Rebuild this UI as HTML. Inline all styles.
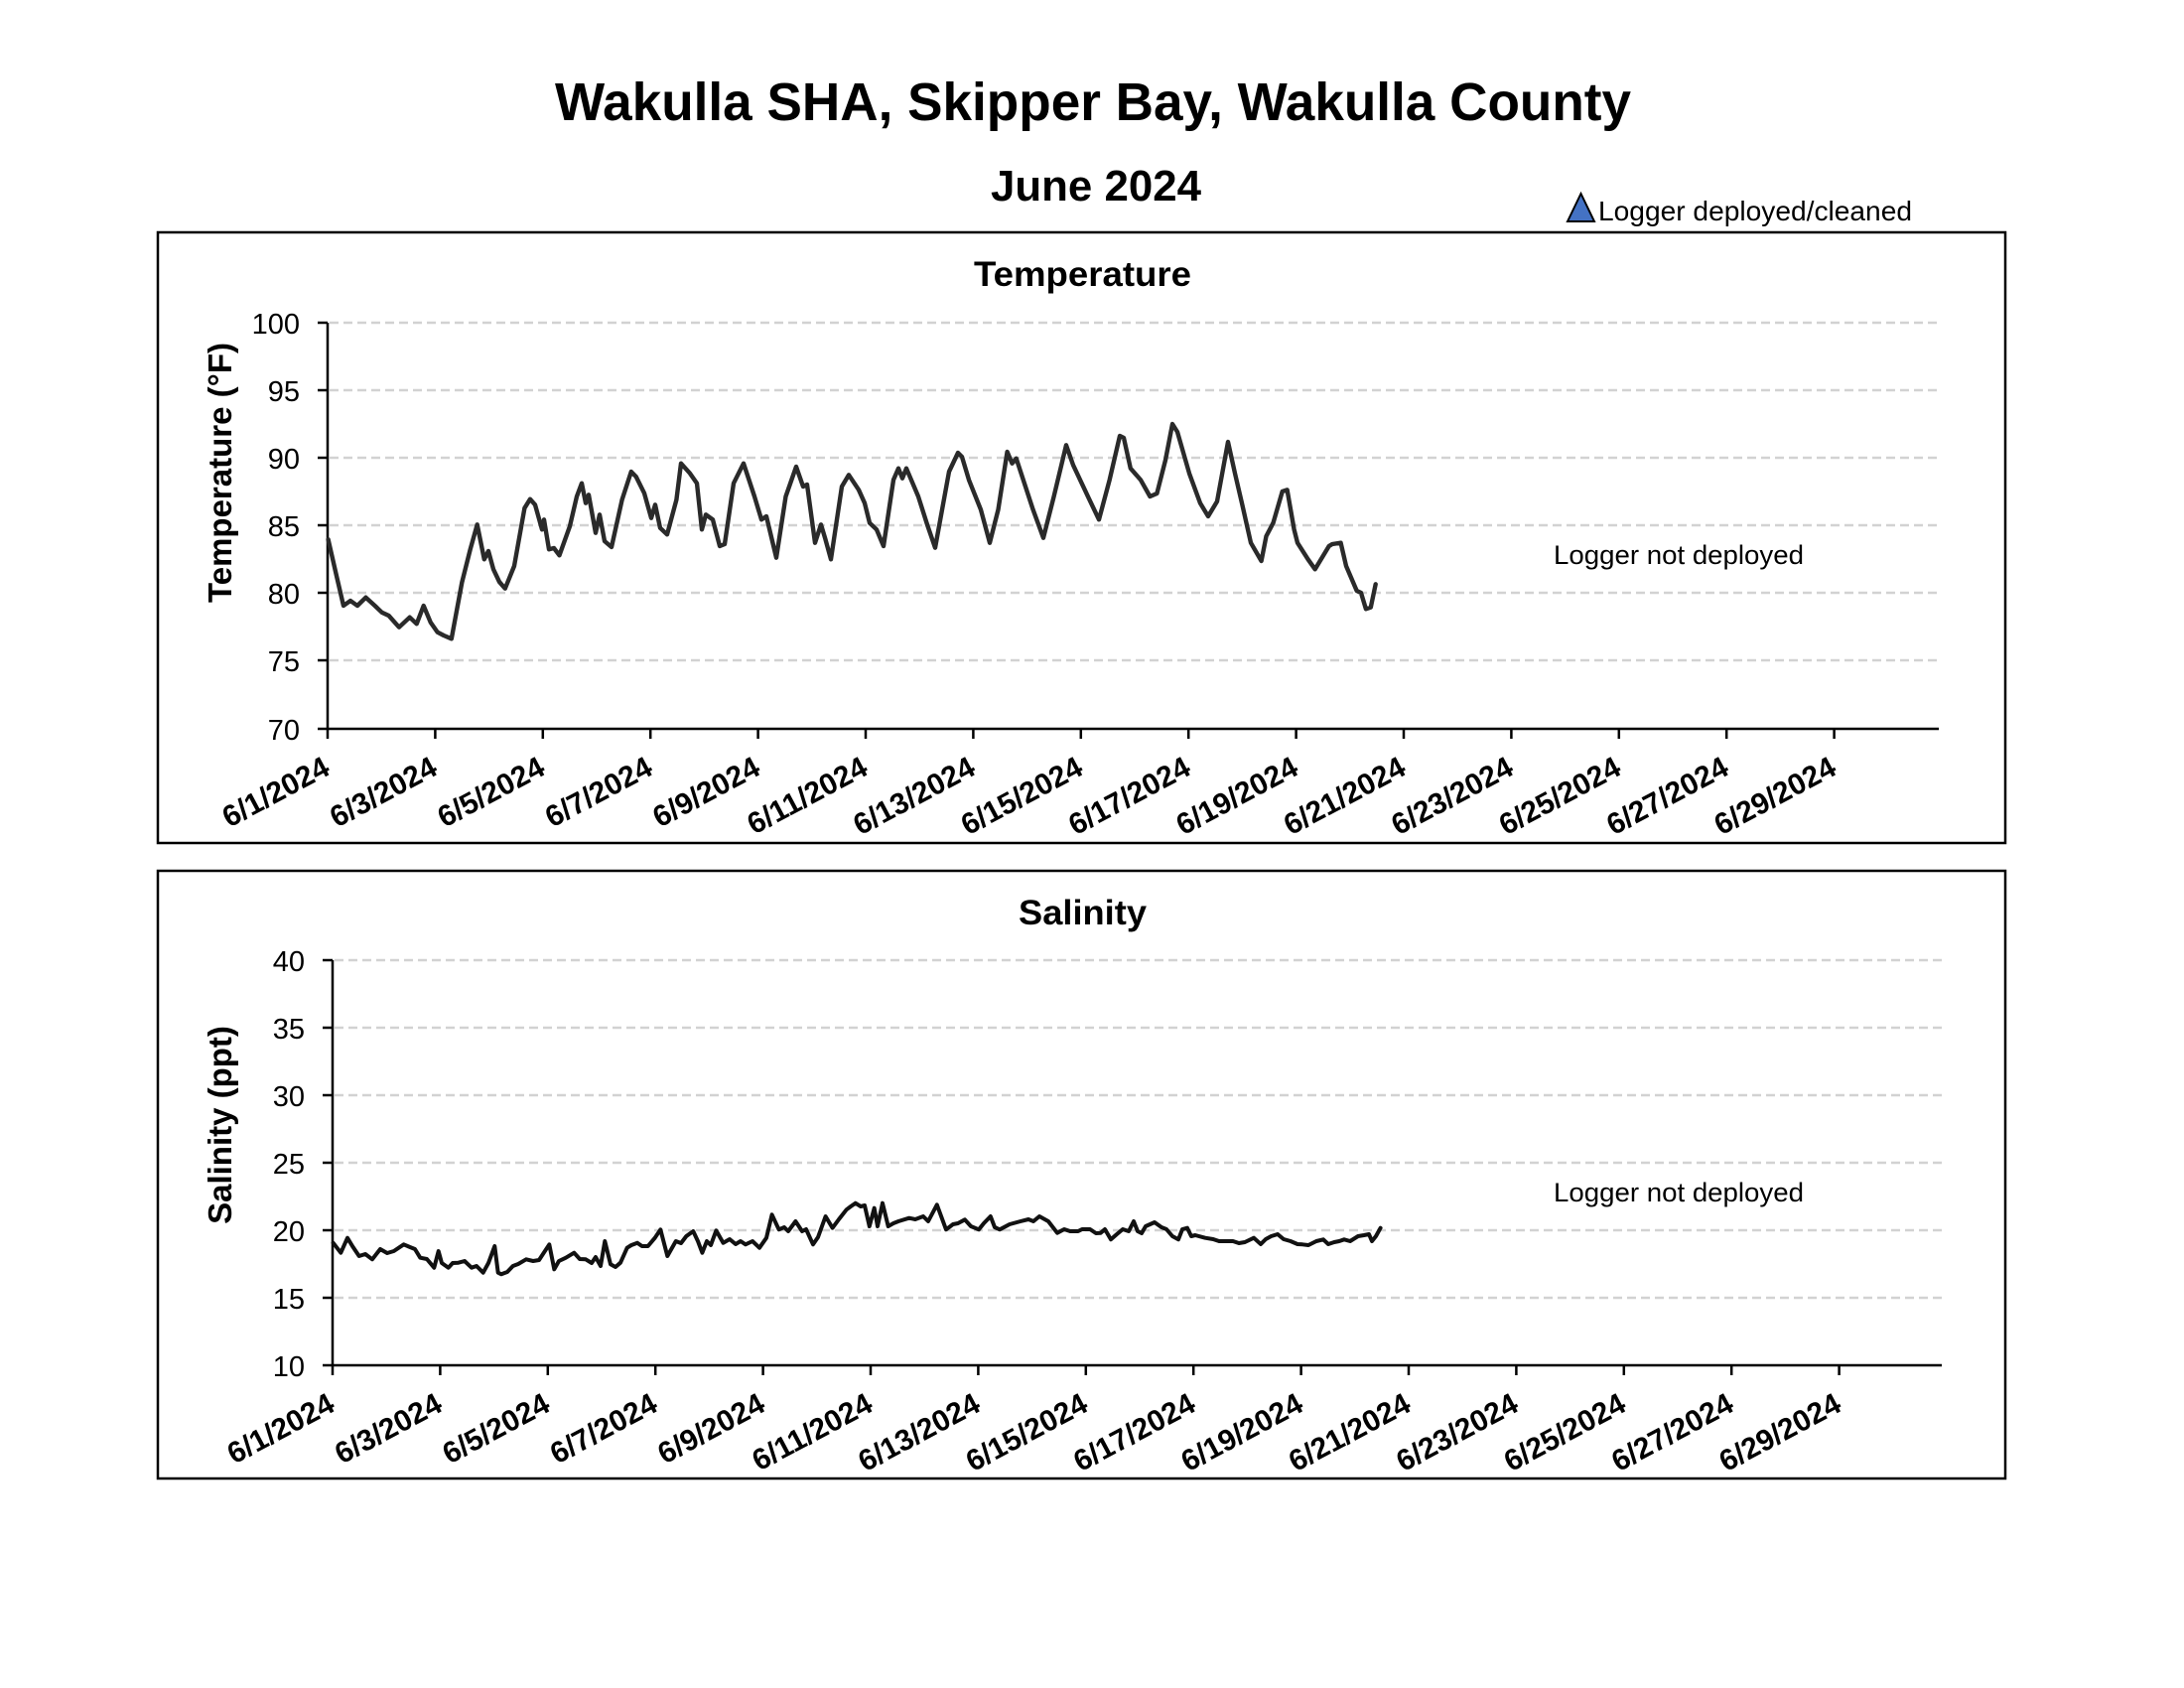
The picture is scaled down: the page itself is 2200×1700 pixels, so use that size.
<!DOCTYPE html>
<html><head><meta charset="utf-8"><style>
html,body{margin:0;padding:0;background:#fff;}
svg{display:block;}
text{font-family:"Liberation Sans",Arial,sans-serif;fill:#000;}
.tl{font-size:29px;text-anchor:end;}
.xl{font-size:30px;text-anchor:end;font-weight:bold;}
.grid{stroke:#d2d2d2;stroke-width:2.5;stroke-dasharray:9 5;}
.ax{stroke:#000;stroke-width:2.5;fill:none;}
</style></head><body>
<svg width="2200" height="1700" viewBox="0 0 2200 1700" xmlns="http://www.w3.org/2000/svg">
<rect x="0" y="0" width="2200" height="1700" fill="#fff"/>
<text x="559" y="121" font-size="54" font-weight="bold" textLength="1084" lengthAdjust="spacingAndGlyphs">Wakulla SHA, Skipper Bay, Wakulla County</text>
<text x="998" y="202" font-size="44" font-weight="bold" textLength="212" lengthAdjust="spacingAndGlyphs">June 2024</text>
<polygon points="1579,223 1592.5,195 1606,223" fill="#4472c4" stroke="#000" stroke-width="2"/>
<text x="1610" y="222" font-size="28" textLength="316" lengthAdjust="spacingAndGlyphs">Logger deployed/cleaned</text>

<!-- TOP CHART -->
<rect x="159" y="234" width="1861" height="615" fill="none" stroke="#000" stroke-width="2.5"/>
<text x="981" y="288" font-size="35" font-weight="bold" textLength="219" lengthAdjust="spacingAndGlyphs">Temperature</text>
<g class="grid">
<line x1="332" y1="325" x2="1953" y2="325"/>
<line x1="332" y1="393" x2="1953" y2="393"/>
<line x1="332" y1="461" x2="1953" y2="461"/>
<line x1="332" y1="529" x2="1953" y2="529"/>
<line x1="332" y1="597" x2="1953" y2="597"/>
<line x1="332" y1="665" x2="1953" y2="665"/>
</g>
<g class="ax">
<line x1="330" y1="325" x2="330" y2="735"/>
<line x1="329" y1="734" x2="1953" y2="734"/>
<line x1="320" y1="325" x2="330" y2="325"/>
<line x1="320" y1="393" x2="330" y2="393"/>
<line x1="320" y1="461" x2="330" y2="461"/>
<line x1="320" y1="529" x2="330" y2="529"/>
<line x1="320" y1="597" x2="330" y2="597"/>
<line x1="320" y1="665" x2="330" y2="665"/>
<line x1="320" y1="734" x2="330" y2="734"/>
<line x1="330" y1="734" x2="330" y2="744"/>
<line x1="438.4" y1="734" x2="438.4" y2="744"/>
<line x1="546.8" y1="734" x2="546.8" y2="744"/>
<line x1="655.2" y1="734" x2="655.2" y2="744"/>
<line x1="763.6" y1="734" x2="763.6" y2="744"/>
<line x1="872" y1="734" x2="872" y2="744"/>
<line x1="980.4" y1="734" x2="980.4" y2="744"/>
<line x1="1088.8" y1="734" x2="1088.8" y2="744"/>
<line x1="1197.2" y1="734" x2="1197.2" y2="744"/>
<line x1="1305.6" y1="734" x2="1305.6" y2="744"/>
<line x1="1414" y1="734" x2="1414" y2="744"/>
<line x1="1522.4" y1="734" x2="1522.4" y2="744"/>
<line x1="1630.8" y1="734" x2="1630.8" y2="744"/>
<line x1="1739.2" y1="734" x2="1739.2" y2="744"/>
<line x1="1847.6" y1="734" x2="1847.6" y2="744"/>
</g>
<text class="tl" x="302" y="336">100</text>
<text class="tl" x="302" y="404">95</text>
<text class="tl" x="302" y="472">90</text>
<text class="tl" x="302" y="540">85</text>
<text class="tl" x="302" y="608">80</text>
<text class="tl" x="302" y="676">75</text>
<text class="tl" x="302" y="745">70</text>
<text class="xl" transform="translate(334,779) rotate(-28)">6/1/2024</text>
<text class="xl" transform="translate(442.4,779) rotate(-28)">6/3/2024</text>
<text class="xl" transform="translate(550.8,779) rotate(-28)">6/5/2024</text>
<text class="xl" transform="translate(659.2,779) rotate(-28)">6/7/2024</text>
<text class="xl" transform="translate(767.6,779) rotate(-28)">6/9/2024</text>
<text class="xl" transform="translate(876,779) rotate(-28)">6/11/2024</text>
<text class="xl" transform="translate(984.4,779) rotate(-28)">6/13/2024</text>
<text class="xl" transform="translate(1092.8,779) rotate(-28)">6/15/2024</text>
<text class="xl" transform="translate(1201.2,779) rotate(-28)">6/17/2024</text>
<text class="xl" transform="translate(1309.6,779) rotate(-28)">6/19/2024</text>
<text class="xl" transform="translate(1418,779) rotate(-28)">6/21/2024</text>
<text class="xl" transform="translate(1526.4,779) rotate(-28)">6/23/2024</text>
<text class="xl" transform="translate(1634.8,779) rotate(-28)">6/25/2024</text>
<text class="xl" transform="translate(1743.2,779) rotate(-28)">6/27/2024</text>
<text class="xl" transform="translate(1851.6,779) rotate(-28)">6/29/2024</text>
<text transform="translate(233,476) rotate(-90)" font-size="33" font-weight="bold" text-anchor="middle">Temperature (°F)</text>
<text x="1565" y="568" font-size="27" textLength="252" lengthAdjust="spacingAndGlyphs">Logger not deployed</text>
<polyline fill="none" stroke="#2a2a2a" stroke-width="4.4" stroke-linejoin="round" stroke-linecap="round" points="330.6,543.3 339,580 346,610 353,605 360,610 368.5,601.7 377.6,610 384.6,616.7 391.6,620 402,631.7 412.7,621.7 419.7,628.3 426.7,610 433.7,626.7 440.7,636.7 447,640 454.8,643.3 465.3,586.7 473.7,553.3 480.7,528.3 487.8,563.3 492,555 497,573.3 503,586 508.8,592.7 518,570 528.4,511.7 534,502.7 539,508.3 546,533.3 548,523.3 553,553.3 558,552 563.5,559.3 574,530 581,500 586,486.7 590,506.7 593,498.3 600,536.7 604,518.3 609,545 616,551 626.6,503.3 635.8,475 640.7,480 649,496.7 656,521.7 660,508.3 665,531.7 672,538.3 681.4,503.3 686,466.7 695,476.7 702,486.7 707,533.3 711,518.3 718,523.3 725,550 730,548 739,486.7 749,466.7 760,500 767,523.3 772,520 782,561.7 791.5,500 802,470 809,490 813,488 821,546.7 827,528.3 831.5,543.3 837,563.3 848,490 855,478.3 865,493.3 871,506.7 876,526.7 883,533.3 890,550 900,483.3 905,471.7 909,481.7 913,471.7 925,500 934,528.3 942,551.7 956,475 965,456 969,460 976,483.3 988,513.3 997,546.7 1005.5,513.3 1014.6,455 1019.5,466.7 1023.7,461.7 1040.6,513.3 1051,541.7 1061.6,500 1074,448.3 1081,468.3 1096.7,501.7 1107,523.3 1117.7,483.3 1128,439 1132,441 1138.8,471.7 1149,483.3 1158.4,500 1165.4,497 1174,463.3 1181,427 1186,435 1198,476.7 1209,506.7 1217,520 1226,505 1237,445 1244,476.7 1251,506.7 1260,546.7 1270.6,565 1275.5,540 1282.5,526.7 1291.7,495 1296.6,493.3 1303.6,533.3 1307,546.7 1317.6,563.3 1324.7,573.3 1338.7,550 1342,548 1350.6,546.7 1356,570 1366.7,595 1371,597 1375.9,613.3 1380.8,611.7 1385.7,588.3"/>

<!-- BOTTOM CHART -->
<rect x="159" y="877" width="1861" height="612" fill="none" stroke="#000" stroke-width="2.5"/>
<text x="1026" y="931" font-size="35" font-weight="bold" textLength="129" lengthAdjust="spacingAndGlyphs">Salinity</text>
<g class="grid">
<line x1="337" y1="967" x2="1958" y2="967"/>
<line x1="337" y1="1035" x2="1958" y2="1035"/>
<line x1="337" y1="1103" x2="1958" y2="1103"/>
<line x1="337" y1="1171" x2="1958" y2="1171"/>
<line x1="337" y1="1239" x2="1958" y2="1239"/>
<line x1="337" y1="1307" x2="1958" y2="1307"/>
</g>
<g class="ax">
<line x1="335" y1="967" x2="335" y2="1376"/>
<line x1="334" y1="1375" x2="1956" y2="1375"/>
<line x1="325" y1="967" x2="335" y2="967"/>
<line x1="325" y1="1035" x2="335" y2="1035"/>
<line x1="325" y1="1103" x2="335" y2="1103"/>
<line x1="325" y1="1171" x2="335" y2="1171"/>
<line x1="325" y1="1239" x2="335" y2="1239"/>
<line x1="325" y1="1307" x2="335" y2="1307"/>
<line x1="325" y1="1375" x2="335" y2="1375"/>
<line x1="335" y1="1375" x2="335" y2="1385"/>
<line x1="443.4" y1="1375" x2="443.4" y2="1385"/>
<line x1="551.8" y1="1375" x2="551.8" y2="1385"/>
<line x1="660.2" y1="1375" x2="660.2" y2="1385"/>
<line x1="768.6" y1="1375" x2="768.6" y2="1385"/>
<line x1="877" y1="1375" x2="877" y2="1385"/>
<line x1="985.4" y1="1375" x2="985.4" y2="1385"/>
<line x1="1093.8" y1="1375" x2="1093.8" y2="1385"/>
<line x1="1202.2" y1="1375" x2="1202.2" y2="1385"/>
<line x1="1310.6" y1="1375" x2="1310.6" y2="1385"/>
<line x1="1419" y1="1375" x2="1419" y2="1385"/>
<line x1="1527.4" y1="1375" x2="1527.4" y2="1385"/>
<line x1="1635.8" y1="1375" x2="1635.8" y2="1385"/>
<line x1="1744.2" y1="1375" x2="1744.2" y2="1385"/>
<line x1="1852.6" y1="1375" x2="1852.6" y2="1385"/>
</g>
<text class="tl" x="307" y="978">40</text>
<text class="tl" x="307" y="1046">35</text>
<text class="tl" x="307" y="1114">30</text>
<text class="tl" x="307" y="1182">25</text>
<text class="tl" x="307" y="1250">20</text>
<text class="tl" x="307" y="1318">15</text>
<text class="tl" x="307" y="1386">10</text>
<text class="xl" transform="translate(339,1420) rotate(-28)">6/1/2024</text>
<text class="xl" transform="translate(447.4,1420) rotate(-28)">6/3/2024</text>
<text class="xl" transform="translate(555.8,1420) rotate(-28)">6/5/2024</text>
<text class="xl" transform="translate(664.2,1420) rotate(-28)">6/7/2024</text>
<text class="xl" transform="translate(772.6,1420) rotate(-28)">6/9/2024</text>
<text class="xl" transform="translate(881,1420) rotate(-28)">6/11/2024</text>
<text class="xl" transform="translate(989.4,1420) rotate(-28)">6/13/2024</text>
<text class="xl" transform="translate(1097.8,1420) rotate(-28)">6/15/2024</text>
<text class="xl" transform="translate(1206.2,1420) rotate(-28)">6/17/2024</text>
<text class="xl" transform="translate(1314.6,1420) rotate(-28)">6/19/2024</text>
<text class="xl" transform="translate(1423,1420) rotate(-28)">6/21/2024</text>
<text class="xl" transform="translate(1531.4,1420) rotate(-28)">6/23/2024</text>
<text class="xl" transform="translate(1639.8,1420) rotate(-28)">6/25/2024</text>
<text class="xl" transform="translate(1748.2,1420) rotate(-28)">6/27/2024</text>
<text class="xl" transform="translate(1856.6,1420) rotate(-28)">6/29/2024</text>
<text transform="translate(233,1133) rotate(-90)" font-size="33" font-weight="bold" text-anchor="middle">Salinity (ppt)</text>
<text x="1565" y="1210" font-size="27" textLength="252" lengthAdjust="spacingAndGlyphs">Logger not deployed</text>
<polyline fill="none" stroke="#111" stroke-width="4" stroke-linejoin="round" stroke-linecap="round" points="335.6,1251.7 343.3,1261.7 350,1246.7 355,1255 361.7,1265 368,1263 375,1268.3 383,1258 390,1262 396.7,1260 406.7,1253.3 413,1256 418,1258 423.3,1266.7 430,1268 437.3,1276.7 441.7,1260 445,1272 451.7,1276.7 456,1272 461.7,1271.7 468,1270 475,1276.7 480,1275 486.7,1281.7 492,1272 498.3,1255 501.7,1281.7 505,1283.3 511,1281 516.7,1275 522,1273 530,1268.3 537,1270 543,1269 550,1258.3 553.3,1253.3 558.3,1278.3 563,1270 570,1266.7 578.3,1261.7 584,1268 590,1268.3 596,1272 600,1266 605,1275 609.3,1250 615,1273.3 620,1276 625,1271.7 631.7,1256.7 636,1254 642,1251.7 646.7,1255 652.7,1255 659.7,1246.7 665.3,1238.3 672.3,1265 680.8,1250 686,1252 691.3,1245 698.3,1240 703,1250 707.4,1261.7 712,1250 716,1254 721.4,1239.3 728.5,1251.7 735,1248 741,1253 746,1250 751,1253.3 758,1250 765,1256.7 772,1246.7 777.6,1223.3 784.6,1238.3 790,1236 794,1240 801.4,1230 808,1240 812,1238 819,1253.3 824,1246 831.6,1225 838.6,1236.7 845,1228 852.6,1218.3 857,1215 861.7,1211.7 867,1215 871,1214 875.8,1235 880.7,1216.7 884,1235 889,1211.7 894.7,1235 900,1232 905,1230 915.8,1226.7 922,1228 930,1225 935,1230 943.8,1213.3 953,1238.3 960,1233 965,1232 971.9,1228.3 978,1235 986,1238.3 991,1232 997.8,1225 1002,1236 1007,1238.3 1017,1233 1028,1230 1036,1228 1041,1230 1047,1225 1056,1230 1065,1241.7 1072,1238 1078,1240 1086,1240 1090,1238 1098,1238 1104,1242 1108.7,1241.7 1113,1238 1119,1248.3 1125,1243 1131,1238 1137,1240 1142,1230 1146,1240 1150,1242 1154,1235 1163,1231 1170,1236 1175,1238 1181,1245 1187,1248.3 1191,1238 1196,1236.7 1200,1245 1204,1244 1214,1246.7 1222,1248 1228,1250 1235,1250 1242,1250 1248,1252 1254,1251 1263,1246.7 1270,1253 1275,1248 1280.5,1245 1287,1243 1293,1248 1300,1250 1307,1253 1312,1253.3 1318,1254 1326,1250 1333,1248.3 1338,1253 1344,1251 1349,1250 1354,1248.3 1360,1250 1368,1245 1374,1244 1379,1243 1382,1250 1386,1245 1390.6,1236.7"/>
</svg>
</body></html>
